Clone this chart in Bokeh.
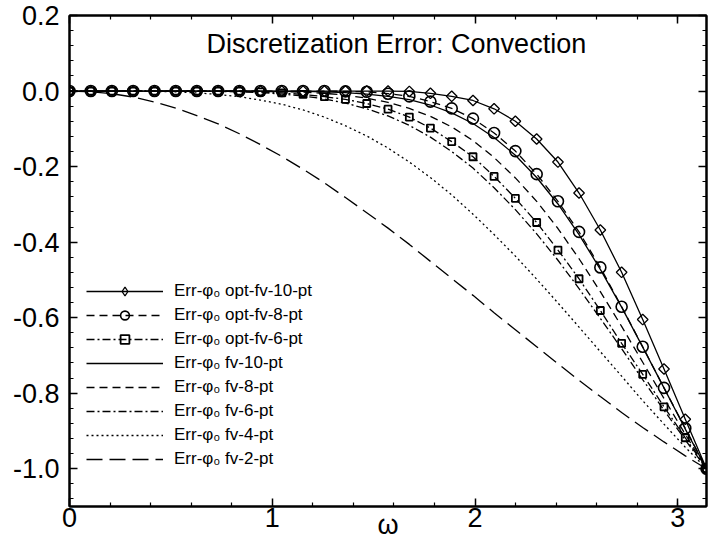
from bokeh.plotting import figure
from bokeh.models import (Range1d, FixedTicker, LinearAxis, Legend, LegendItem,
                          Label, PrintfTickFormatter, ColumnDataSource)
from bokeh.embed import file_html
from bokeh.resources import INLINE

# ---------------- data ----------------
omega = [0.000, 0.105, 0.209, 0.314, 0.419, 0.524, 0.628, 0.733, 0.838, 0.942,
         1.047, 1.152, 1.257, 1.361, 1.466, 1.571, 1.676, 1.780, 1.885, 1.990,
         2.094, 2.199, 2.304, 2.409, 2.513, 2.618, 2.723, 2.827, 2.932, 3.037,
         3.1416]

opt_fv10 = [0.0, 0.0, 0.0, 0.0, 0.0, 0.0, 0.0, 0.0, 0.0, 0.0,
            0.0, 0.0, 0.0, 0.0, 0.0, 0.0, -0.001, -0.006, -0.014, -0.025,
            -0.047, -0.080, -0.127, -0.188, -0.270, -0.368, -0.480, -0.605, -0.736, -0.869,
            -1.0]
opt_fv8 = [0.0, 0.0, 0.0, 0.0, 0.0, 0.0, 0.0, 0.0, 0.0, 0.0,
           0.0, 0.0, 0.0, -0.001, -0.002, -0.007, -0.014, -0.028, -0.046, -0.073,
           -0.111, -0.159, -0.220, -0.292, -0.373, -0.467, -0.571, -0.677, -0.786, -0.893,
           -1.0]
opt_fv6 = [0.0, 0.0, 0.0, 0.0, 0.0, 0.0, 0.0, 0.0, 0.0, -0.002,
           -0.005, -0.009, -0.015, -0.022, -0.033, -0.048, -0.069, -0.098, -0.134, -0.174,
           -0.226, -0.284, -0.348, -0.421, -0.497, -0.581, -0.668, -0.750, -0.836, -0.918,
           -1.0]
fv10 = [0.0, 0.0, 0.0, 0.0, 0.0, 0.0, 0.0, 0.0, 0.0, 0.0,
        -0.001, -0.001, -0.002, -0.004, -0.008, -0.014, -0.023, -0.037, -0.058, -0.086,
        -0.123, -0.170, -0.229, -0.299, -0.380, -0.472, -0.572, -0.678, -0.786, -0.895,
        -1.0]
fv8 = [0.0, 0.0, 0.0, 0.0, 0.0, 0.0, 0.0, 0.0, 0.0, -0.001,
       -0.002, -0.003, -0.006, -0.011, -0.019, -0.030, -0.046, -0.067, -0.095, -0.131,
       -0.176, -0.230, -0.292, -0.364, -0.444, -0.531, -0.623, -0.718, -0.814, -0.909,
       -1.0]
fv6 = [0.0, 0.0, 0.0, 0.0, 0.0, 0.0, 0.0, -0.001, -0.002, -0.004,
       -0.008, -0.013, -0.021, -0.032, -0.047, -0.066, -0.091, -0.122, -0.160, -0.204,
       -0.256, -0.314, -0.378, -0.448, -0.523, -0.602, -0.682, -0.764, -0.845, -0.924,
       -1.0]
fv4 = [0.0, 0.0, 0.0, 0.0, -0.001, -0.002, -0.005, -0.009, -0.015, -0.024,
       -0.035, -0.050, -0.069, -0.092, -0.119, -0.151, -0.188, -0.229, -0.275, -0.326,
       -0.380, -0.437, -0.498, -0.561, -0.625, -0.690, -0.755, -0.820, -0.882, -0.943,
       -1.0]
fv2 = [0.0, -0.002, -0.007, -0.016, -0.029, -0.045, -0.065, -0.087, -0.113, -0.142,
       -0.173, -0.207, -0.243, -0.282, -0.322, -0.363, -0.406, -0.451, -0.496, -0.541,
       -0.587, -0.632, -0.677, -0.722, -0.766, -0.809, -0.851, -0.891, -0.929, -0.966,
       -1.0]

series_labels = ["Err-\u03c6\u2080 opt-fv-10-pt", "Err-\u03c6\u2080 opt-fv-8-pt",
                 "Err-\u03c6\u2080 opt-fv-6-pt", "Err-\u03c6\u2080 fv-10-pt",
                 "Err-\u03c6\u2080 fv-8-pt", "Err-\u03c6\u2080 fv-6-pt",
                 "Err-\u03c6\u2080 fv-4-pt", "Err-\u03c6\u2080 fv-2-pt"]

x_major_ticks = [0, 1, 2, 3]
x_minor_ticks = [0.2, 0.4, 0.6, 0.8, 1.2, 1.4, 1.6, 1.8, 2.2, 2.4, 2.6, 2.8, 3.0]
y_major_ticks = [-1.0, -0.8, -0.6, -0.4, -0.2, 0.0, 0.2]
y_minor_ticks = [-1.08, -1.04, -0.96, -0.92, -0.88, -0.84, -0.76, -0.72, -0.68, -0.64,
                 -0.56, -0.52, -0.48, -0.44, -0.36, -0.32, -0.28, -0.24, -0.16, -0.12,
                 -0.08, -0.04, 0.04, 0.08, 0.12, 0.16]

title_text = "Discretization Error: Convection"
x_label = "\u03c9"

FONT = "Liberation Sans"

# ---------------- figure ----------------
p = figure(width=709, height=542, output_backend="svg", toolbar_location=None,
           title=None,
           x_range=Range1d(0, 3.1416), y_range=Range1d(-1.1, 0.2),
           min_border_left=69, min_border_right=3, min_border_top=15,
           min_border_bottom=36)
p.xgrid.visible = False
p.ygrid.visible = False
p.outline_line_color = "black"
p.outline_line_width = 2
p.background_fill_color = "white"
p.border_fill_color = "white"

xt = FixedTicker(ticks=x_major_ticks, minor_ticks=x_minor_ticks)
yt = FixedTicker(ticks=y_major_ticks, minor_ticks=y_minor_ticks)


def style_axis(ax):
    ax.axis_line_color = "black"
    ax.axis_line_width = 2
    ax.major_tick_in = 8
    ax.major_tick_out = 0
    ax.minor_tick_in = 4
    ax.minor_tick_out = 0
    ax.major_tick_line_width = 1.5
    ax.minor_tick_line_width = 1.2
    ax.major_tick_line_color = "black"
    ax.minor_tick_line_color = "black"
    ax.major_label_text_font = FONT
    ax.major_label_text_font_size = "27px"
    ax.major_label_text_color = "black"


xa = p.xaxis[0]
xa.ticker = xt
style_axis(xa)
xa.major_label_standoff = 1
xa.axis_label = x_label
xa.axis_label_text_font = FONT
xa.axis_label_text_font_size = "27px"
xa.axis_label_text_font_style = "normal"
xa.axis_label_text_color = "black"
xa.axis_label_standoff = -20

ya = p.yaxis[0]
ya.ticker = yt
ya.formatter = PrintfTickFormatter(format="%.1f")
style_axis(ya)
ya.major_label_standoff = 10

# tick marks only on the top and right frame edges (labels not painted)
top_ax = LinearAxis(ticker=xt)
style_axis(top_ax)
top_ax.major_label_text_font_size = "1px"
top_ax.major_label_text_color = None
top_ax.major_label_standoff = 0
p.add_layout(top_ax, "above")

right_ax = LinearAxis(ticker=yt)
style_axis(right_ax)
right_ax.major_label_text_font_size = "1px"
right_ax.major_label_text_color = None
right_ax.major_label_standoff = 0
p.add_layout(right_ax, "right")

# ---------------- curves ----------------
LW = 1.3
specs = [
    (opt_fv10, "solid", "diamond"),
    (opt_fv8, "8 5", "circle"),
    (opt_fv6, "8 3 2 3", "square"),
    (fv10, "solid", None),
    (fv8, "8 5", None),
    (fv6, "8 3 2 3", None),
    (fv4, "2 3", None),
    (fv2, "16 7", None),
]

items = []
for (ys, dash, mk), lab in zip(specs, series_labels):
    src = ColumnDataSource(dict(x=omega, y=ys))
    line_r = p.line("x", "y", source=src, line_color="black", line_width=LW,
                    line_dash=dash)
    rs = [line_r]
    if mk == "diamond":
        # open diamonds: squares turned by 45 degrees
        p.scatter("x", "y", source=src, marker="square", angle=0.7854, size=7.5,
                  fill_color=None, line_color="black", line_width=1.3)
        # legend key of the same symbol; in the plot area it is fully transparent
        key_src = ColumnDataSource(dict(x=omega, y=ys))
        key_src.selected.indices = [0]
        key_r = p.scatter("x", "y", source=key_src, marker="diamond", size=12,
                          fill_color=None, line_color="black", line_width=1.3,
                          selection_line_alpha=0, nonselection_line_alpha=0,
                          selection_fill_alpha=0, nonselection_fill_alpha=0)
        rs.append(key_r)
    elif mk == "circle":
        rs.append(p.scatter("x", "y", source=src, marker="circle", size=11,
                            fill_color=None, line_color="black", line_width=1.6))
    elif mk == "square":
        rs.append(p.scatter("x", "y", source=src, marker="square", size=7,
                            fill_color=None, line_color="black", line_width=1.8))
    items.append(LegendItem(label=lab, renderers=rs))

legend = Legend(items=items, location=(17, 36), glyph_width=77, glyph_height=22,
                label_height=22, spacing=2, padding=0, margin=0,
                border_line_color=None, background_fill_alpha=0,
                label_text_font=FONT, label_text_font_size="17px",
                label_text_color="black", label_standoff=11)
p.add_layout(legend)

p.add_layout(Label(x=1.612, y=0.125, text=title_text, text_align="center",
                   text_baseline="middle", text_font=FONT,
                   text_font_size="27px", text_color="black"))

open("out.html", "w").write(file_html(p, INLINE))
